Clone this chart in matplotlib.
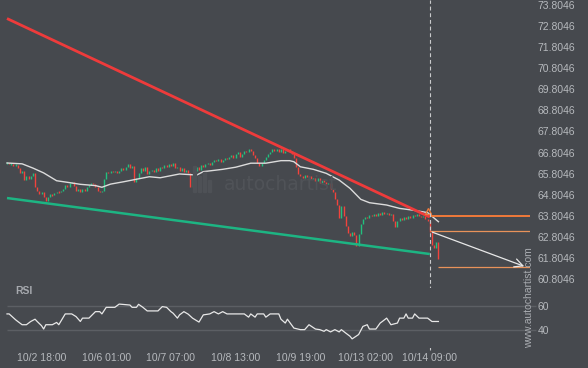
import matplotlib
matplotlib.use("Agg")
import matplotlib.pyplot as plt
import matplotlib.transforms as mtransforms
from matplotlib.patches import Rectangle

# hourly closes, bar index 0 = 10/2 02:00
first_open = 66.30
closes = [
    66.32, 66.25, 66.28, 66.18, 66.22, 66.05, 65.85, 65.95, 65.50, 65.70,
    65.55, 65.68, 65.85, 65.15, 65.00, 64.85, 64.95, 64.72, 64.50, 64.70,
    64.82, 64.78, 64.88, 64.95, 64.92, 65.00, 65.10, 65.25, 65.18, 65.35,
    65.40, 65.20, 65.00, 65.10, 64.95, 65.10, 65.00, 65.15, 65.25, 65.35,
    65.30, 65.15, 65.00, 64.92, 64.98, 65.55, 65.90, 65.85, 65.95, 65.88,
    65.92, 65.85, 65.95, 66.05, 66.00, 66.10, 66.25, 66.05, 66.15, 65.40,
    65.60, 65.85, 66.05, 65.95, 66.10, 65.80, 65.95, 66.00, 65.90, 66.05,
    65.95, 66.10, 66.05, 66.20, 66.10, 66.25, 66.15, 66.30, 66.05, 66.10,
    65.95, 66.05, 65.90, 66.00, 65.85, 65.15, 65.75, 65.95, 66.10, 66.00,
    66.20, 66.10, 66.25, 66.30, 66.20, 66.35, 66.45, 66.40, 66.50, 66.35,
    66.45, 66.55, 66.50, 66.60, 66.70, 66.55, 66.75, 66.85, 66.60, 66.75,
    66.90, 66.85, 66.95, 66.90, 66.70, 66.55, 66.30, 66.15, 66.30, 66.45,
    66.60, 66.75, 66.85, 66.95, 66.90, 66.95, 66.85, 66.95, 66.80, 66.90,
    66.98, 66.90, 66.75, 66.55, 66.10, 65.80, 65.70, 65.60, 65.75, 65.65,
    65.70, 65.55, 65.60, 65.45, 65.60, 65.35, 65.50, 65.40, 65.30, 65.35,
    65.10, 64.95, 64.60, 64.30, 63.70, 64.25, 63.80, 63.35, 63.00, 62.85,
    63.05, 62.90, 62.40, 62.95, 63.40, 63.65, 63.75, 63.70, 63.85, 63.80,
    63.90, 63.80, 63.95, 63.85, 64.00, 63.90, 63.95, 63.85, 63.90, 63.55,
    63.30, 63.55, 63.70, 63.60, 63.75, 63.65, 63.80, 63.70, 63.85, 63.78,
    63.88, 63.80, 63.75, 63.82, 63.65, 63.55, 63.05, 62.45, 62.30, 62.55,
    61.75,
]

ma_idx = [0, 7, 12, 17, 23, 29, 34, 41, 44, 48, 54, 60, 66, 71, 80, 88, 91,
          100, 106, 113, 120, 127, 131, 133, 136, 142, 148, 154, 159, 164,
          168, 176, 182, 188, 195, 200]
ma_val = [66.31, 66.27, 66.07, 65.84, 65.47, 65.38, 65.30, 65.24, 65.16,
          65.31, 65.42, 65.54, 65.66, 65.61, 65.79, 65.74, 65.90, 66.01,
          66.11, 66.30, 66.30, 66.42, 66.42, 66.37, 66.13, 66.01, 65.82,
          65.50, 65.11, 64.59, 64.43, 64.32, 64.16, 64.08, 63.96, 63.53]

rsi_idx = [0, 1, 4, 5, 7, 9, 11, 13, 14, 16, 17, 18, 21, 23, 24, 27, 30, 32,
           34, 35, 38, 41, 43, 44, 46, 50, 52, 57, 58, 60, 61, 63, 65, 70, 72,
           74, 76, 77, 79, 80, 82, 84, 86, 89, 91, 94, 96, 98, 100, 102, 110,
           112, 113, 115, 116, 119, 120, 122, 126, 127, 129, 130, 133, 136,
           138, 140, 143, 145, 147, 148, 150, 152, 154, 155, 157, 159, 160,
           163, 165, 167, 168, 171, 173, 174, 176, 178, 181, 182, 184, 185,
           186, 188, 189, 191, 195, 197, 200]
rsi_val = [53.4, 53.4, 48.5, 47.1, 44.4, 44.4, 47.1, 49.0, 47.1, 43.6, 40.8,
           44.4, 44.4, 46.3, 44.4, 53.4, 53.4, 51.2, 47.1, 49.9, 49.9, 55.3,
           55.3, 53.4, 58.9, 58.9, 61.6, 60.8, 58.9, 58.9, 61.4, 58.9, 55.9,
           55.9, 59.5, 58.9, 55.3, 54.0, 49.9, 52.6, 55.3, 53.2, 49.9, 46.6,
           52.6, 53.4, 55.3, 53.4, 55.3, 53.4, 53.4, 50.7, 53.4, 50.7, 53.4,
           53.4, 50.7, 53.4, 53.4, 49.0, 45.8, 49.0, 41.6, 40.3, 40.3, 44.4,
           40.8, 40.3, 38.9, 40.3, 38.4, 40.3, 38.4, 40.3, 37.5, 34.8, 32.6,
           36.2, 43.0, 44.4, 40.8, 40.8, 45.8, 47.1, 49.9, 44.4, 45.8, 49.9,
           49.9, 53.4, 49.9, 49.9, 53.4, 49.9, 49.9, 47.1, 47.1]

red_trend_idx = [0, 196]
red_trend_val = [73.15, 63.75]
green_trend_idx = [0, 196]
green_trend_val = [64.65, 62.00]

breakout_idx = 196
breakout_level = 63.79
marker_idx = 195
marker_val = 64.06
forecast_start = 63.08
forecast_end_idx = 241
forecast_end = 61.37
target_start_idx = 200

price_ticks = [60.8046, 61.8046, 62.8046, 63.8046, 64.8046, 65.8046, 66.8046,
               67.8046, 68.8046, 69.8046, 70.8046, 71.8046, 72.8046, 73.8046]
date_idx = [16, 46, 76, 106, 136, 166, 196]
date_labels = ["10/2 18:00", "10/6 01:00", "10/7 07:00", "10/8 13:00",
               "10/9 19:00", "10/13 02:00", "10/14 09:00"]

BG = "#46494e"
UP = "#22c07e"
DOWN = "#f2433c"
TXT = "#b6b9bd"
GRID = "#5c5f64"
plt.rcParams["font.family"] = ["Liberation Sans", "DejaVu Sans"]

W, H = 588, 368
fig = plt.figure(figsize=(W / 100, H / 100), dpi=100, facecolor=BG)
ax = fig.add_axes([0, 1 - 285 / H, 530 / W, 285 / H], facecolor=BG)
ax_rsi = fig.add_axes([0, 1 - 348 / H, 530 / W, 60 / H], facecolor=BG)
xlim = (-3.245, 242.46)

# watermark logo
fig.text(224 / W, 1 - 185 / H, "autochartist", color="#505358", fontsize=13.5,
         family="DejaVu Sans", va="center", ha="left", zorder=0)
for bx, top in zip([193, 198, 203, 208], [166, 176, 172, 180]):
    fig.patches.append(Rectangle((bx / W, 1 - 192 / H), 3 / W, (192 - top) / H,
                                 transform=fig.transFigure, color="#4e5156", zorder=0))

# candles
opens = [first_open] + closes[:-1]
for i, (o, c) in enumerate(zip(opens, closes)):
    lo, hi = min(o, c), max(o, c)
    if hi - lo < 0.04:
        lo, hi = lo - 0.02, hi + 0.02
    ax.vlines(i, lo, hi, color=UP if c >= o else DOWN, lw=1.0, zorder=3)

ax.plot(ma_idx, ma_val, color="#dcdcdc", lw=1.0, zorder=4)
ax.plot(red_trend_idx, red_trend_val, color="#ee3b3b", lw=2.0, zorder=5,
        solid_capstyle="butt")
ax.plot(green_trend_idx, green_trend_val, color="#1db583", lw=1.8, zorder=5,
        solid_capstyle="butt")

ax.hlines(breakout_level, breakout_idx, xlim[1], color="#f07a3a", lw=1.4, zorder=4)
ax.hlines(forecast_start, breakout_idx, xlim[1], color="#e8925a", lw=0.9, zorder=4)
ax.hlines(forecast_end, target_start_idx, xlim[1], color="#e8925a", lw=0.9, zorder=4)
ax.plot([marker_idx], [marker_val], marker="^", ms=5, mfc="none", mec="#f07a3a",
        mew=1.0, zorder=6)
ax.annotate("", xy=(forecast_end_idx, forecast_end), xytext=(breakout_idx, forecast_start),
            arrowprops=dict(arrowstyle="->,head_length=0.6,head_width=0.3",
                            color="#e8e8e8", lw=0.9), zorder=6)

ax.set_xlim(*xlim)
ax.set_ylim(60.533, 74.027)
ax.yaxis.tick_right()
ax.set_yticks(price_ticks)
ax.set_yticklabels([f"{t:.4f}" for t in price_ticks])
ax.tick_params(axis="y", length=0, pad=5.5, labelsize=7.5, labelcolor=TXT)
ax.set_xticks([])
for s in ax.spines.values():
    s.set_visible(False)

# RSI panel
ax_rsi.hlines([40, 60], 0, xlim[1], color=GRID, lw=1, zorder=1)
ax_rsi.plot(rsi_idx, rsi_val, color="#e8e8e8", lw=0.9, zorder=3)
ax_rsi.set_xlim(*xlim)
ax_rsi.set_ylim(25, 75)
ax_rsi.yaxis.tick_right()
ax_rsi.set_yticks([40, 60])
ax_rsi.tick_params(axis="y", length=4.5, width=1, color=GRID, pad=1.2,
                   labelsize=7.5, labelcolor=TXT)
ax_rsi.set_xticks(date_idx)
ax_rsi.set_xticklabels(date_labels)
ax_rsi.tick_params(axis="x", length=0, pad=3.5, labelsize=7.5, labelcolor=TXT)
for s in ax_rsi.spines.values():
    s.set_visible(False)
fig.text(15 / W, 1 - 291 / H, "RSI", color="#a6a9ae", fontsize=7.5,
         fontweight="bold", va="center", ha="left")

# time marker dashed line through both panels
trans = mtransforms.blended_transform_factory(ax.transData, fig.transFigure)
ax.plot([breakout_idx, breakout_idx], [1 - 350 / H, 1], transform=trans,
        color="#c9cacc", lw=0.8, ls=(0, (3.5, 2.5)), clip_on=False, zorder=7)

fig.text(529 / W, 1 - 298 / H, "www.autochartist.com", rotation=90, color="#a9acb1",
         fontsize=7.5, ha="center", va="center")

fig.savefig("out.png", dpi=100, facecolor=BG)
